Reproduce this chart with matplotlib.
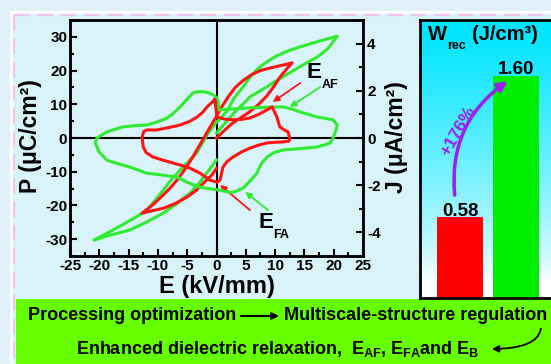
import numpy as np
import matplotlib.pyplot as plt
from matplotlib.patches import Rectangle, FancyArrowPatch
from matplotlib.ticker import MultipleLocator

plt.rcParams['font.family'] = 'Liberation Sans'
plt.rcParams['font.weight'] = 'bold'
plt.rcParams['axes.unicode_minus'] = False
plt.rcParams['mathtext.fontset'] = 'custom'
plt.rcParams['mathtext.rm'] = 'Liberation Sans:bold'
plt.rcParams['mathtext.it'] = 'Liberation Sans:bold'
plt.rcParams['mathtext.bf'] = 'Liberation Sans:bold'

# P-E loops (kV/mm, uC/cm2)
red_pe_E = [0, 1.5, 2.8, 4.3, 5.7, 7.2, 8.6, 9.8, 10.8, 11.9, 12.9, 11.8, 10.5, 9.0, 7.5, 6.0, 4.5, 3.2,
            2.0, 1.0, 0, -1.0, -2.0, -3.0, -4.0, -5.2, -6.5, -8.0, -9.5, -11.0, -12.7, -11.0, -9.0, -7.0,
            -5.0, -3.5, -2.0, -0.8, 0]
red_pe_P = [0, 2.5, 4.5, 6.2, 7.8, 10.0, 12.5, 15.3, 18.0, 20.3, 22.3, 21.8, 21.3, 20.7, 20.0, 18.8, 17.0,
            15.0, 12.2, 9.5, 6.5, 3.5, 0.5, -2.5, -5.5, -8.8, -12.0, -15.0, -17.6, -20.0, -22.3, -21.6,
            -20.8, -19.4, -17.5, -15.6, -13.0, -11.0, -9.0]

green_pe_E = [0, 1.5, 3.0, 4.5, 5.7, 7.5, 9.5, 11.3, 13.3, 15.2, 17.2, 19.0, 20.6, 18.5, 16.3, 14.2, 12.0,
              10.2, 8.6, 7.0, 5.7, 4.5, 3.0, 1.8, 0.8, 0, -1.6, -3.4, -4.8, -6.2, -8.0, -10.0, -11.9,
              -13.8, -15.8, -17.7, -19.3, -20.9, -19.0, -16.8, -14.8, -12.0, -9.1, -6.8, -4.5, -3.0,
              -1.5, 0]
green_pe_P = [1.5, 4.5, 7.5, 10.0, 12.2, 14.0, 16.2, 18.1, 20.2, 22.1, 24.0, 26.5, 30.2, 29.2, 28.1, 27.0,
              25.7, 24.3, 22.6, 20.5, 18.0, 15.1, 11.8, 8.0, 6.0, 4.7, 1.0, -4.5, -7.0, -9.5, -13.0,
              -17.5, -21.4, -23.5, -25.5, -27.3, -28.8, -30.3, -29.2, -28.2, -27.3, -25.0, -22.3,
              -19.5, -16.3, -13.5, -10.0, -6.5]

# J-E curves (kV/mm, uA/cm2)
red_je_E = [-0.3, 0.1, 1.4, 2.8, 4.3, 5.7, 7.2, 8.6, 9.5, 10.3, 10.8, 11.6, 12.2, 12.5, 12.4, 11.3, 10.0,
            8.6, 7.2, 5.7, 4.2, 2.8, 1.8, 1.1, 0.6, 0.1, -1.1, -2.8, -4.5, -6.0, -7.4, -9.1, -10.8,
            -12.0, -12.5, -12.7, -12.4, -11.9, -10.2, -8.2, -6.2, -4.6, -3.3, -2.4, -1.6, -0.3]
red_je_J = [1.62, 0.89, 0.80, 0.77, 0.79, 0.85, 1.00, 1.19, 1.32, 0.89, 0.47, 0.34, 0.26, 0.0, -0.13,
            -0.17, -0.18, -0.21, -0.30, -0.43, -0.60, -0.81, -1.00, -1.23, -1.79, -1.87, -1.79, -1.49,
            -1.28, -1.16, -1.06, -0.94, -0.81, -0.62, -0.38, 0.04, 0.28, 0.34, 0.34, 0.44, 0.55, 0.70,
            0.89, 1.08, 1.32, 1.62]

green_je_E = [0.1, 2.8, 5.7, 8.5, 11.3, 12.8, 14.2, 15.7, 17.2, 18.6, 19.9, 20.6, 20.4, 19.9, 19.4, 18.3,
              17.2, 14.2, 11.3, 9.8, 8.6, 7.6, 6.9, 5.7, 4.5, 3.6, 2.8, 1.7, 0.6, -1.1, -2.8, -4.8,
              -6.7, -9.3, -11.9, -14.8, -16.8, -18.7, -20.0, -20.7, -20.4, -18.7, -16.0, -13.9, -11.9,
              -10.1, -8.4, -7.3, -6.2, -5.1, -4.0, -3.1, -2.3, -1.4, -0.6, 0.1, 0.4, 0.1]
green_je_J = [1.19, 1.23, 1.28, 1.30, 1.32, 1.23, 1.11, 1.00, 0.89, 0.83, 0.77, 0.55, 0.34, 0.0, -0.21,
              -0.30, -0.38, -0.45, -0.51, -0.62, -0.81, -1.10, -1.49, -1.83, -2.13, -2.23, -2.30, -2.28,
              -2.21, -2.15, -2.09, -1.90, -1.66, -1.57, -1.49, -1.23, -1.09, -0.94, -0.60, -0.21, 0.0,
              0.26, 0.47, 0.52, 0.55, 0.68, 0.85, 1.06, 1.32, 1.62, 1.91, 1.96, 1.96, 1.92, 1.83, 1.70,
              1.36, 1.19]

# W_rec bars
samples = ['low', 'opt']
w_rec = [0.58, 1.60]
bar_colors = ['#ff0000', '#00ee00']

RED = '#ff1414'
GREEN = '#30ec30'
PURPLE = '#9b1ff0'

W, H = 551, 364
fig = plt.figure(figsize=(W / 100, H / 100), dpi=100)
fig.patch.set_facecolor('#e2f1f9')


def px_axes(x0, y0, x1, y1):
    return fig.add_axes([x0 / W, 1 - y1 / H, (x1 - x0) / W, (y1 - y0) / H])


def sub_text(axis, x, y, main, sub, size, subsize, **kw):
    # big letter with a small, low subscript next to it
    t = axis.text(x, y, main, fontsize=size, ha='left', va='baseline', **kw)
    axis.annotate(sub, xy=(1, 0), xycoords=t, xytext=(0.3, -3.5), textcoords='offset points',
                  fontsize=subsize, ha='left', va='baseline', **kw)
    return t


# background panel, border and bottom summary box (pixel coordinates)
bg = fig.add_axes([0, 0, 1, 1])
bg.set_xlim(0, W)
bg.set_ylim(H, 0)
bg.axis('off')
bg.set_zorder(-5)
bg.add_patch(Rectangle((10, 11), W, H, fc='white', ec='none'))
bg.add_patch(Rectangle((13, 14), W, H, fc='#d9f3fb', ec='none'))
bg.plot([14, W], [15, 15], color='#f0c4f2', lw=1.6, ls=(0, (7, 3.5)))
bg.plot([14, 14], [15, H], color='#f0c4f2', lw=1.6, ls=(0, (7, 3.5)))
bg.add_patch(Rectangle((16, 299), W, H, fc='#66ff00', ec='none'))

bg.text(30, 136, 'P (μC/cm²)', rotation=90, ha='center', va='center', fontsize=16.5)
bg.text(397, 137, 'J (μA/cm²)', rotation=90, ha='center', va='center', fontsize=16.5)
bg.text(217, 287, 'E (kV/mm)', ha='center', va='center', fontsize=17)

bg.text(28, 316, 'Processing optimization', ha='left', va='center', fontsize=13)
bg.annotate('', xy=(279, 316), xytext=(241, 316),
            arrowprops=dict(arrowstyle='-|>', lw=1.5, color='k', mutation_scale=10,
                            shrinkA=0, shrinkB=0))
bg.text(547, 316, 'Multiscale-structure regulation', ha='right', va='center', fontsize=13)
bg.text(76, 349, r'Enhanced dielectric relaxation,  $E_{AF}$, $E_{FA}$and $E_B$',
        ha='left', va='center', fontsize=13)
bg.add_patch(FancyArrowPatch((541, 326), (489, 349), connectionstyle='angle3,angleA=90,angleB=0',
                             arrowstyle='-|>', mutation_scale=10, lw=1.3, color='k'))

# P-E and J-E panel
ax = px_axes(70, 20, 363, 256)
ax.set_facecolor('none')
ax.set_xlim(-25, 25)
ax.set_ylim(-35, 35)
ax.axhline(0, color='k', lw=1.5, zorder=1)
ax.axvline(0, color='k', lw=1.5, zorder=1)
ax.plot(green_pe_E, green_pe_P, color=GREEN, lw=2.2, solid_joinstyle='round', zorder=3)
ax.plot(red_pe_E, red_pe_P, color=RED, lw=2.2, solid_joinstyle='round', zorder=3)
ax.set_xticks(np.arange(-25, 26, 5))
ax.set_yticks(np.arange(-30, 31, 10))
ax.xaxis.set_minor_locator(MultipleLocator(2.5))
ax.yaxis.set_minor_locator(MultipleLocator(5))
ax.tick_params(which='both', direction='in', width=1.5, labelsize=11, pad=2, right=False, top=False)
ax.tick_params(which='major', length=5)
ax.tick_params(which='minor', length=3)
for s in ax.spines.values():
    s.set_linewidth(1.8)

ax2 = ax.twinx()
ax2.set_ylim(-5, 5)
ax2.plot(green_je_E, green_je_J, color=GREEN, lw=2.2, solid_joinstyle='round')
ax2.plot(red_je_E, red_je_J, color=RED, lw=2.2, solid_joinstyle='round')
ax2.set_yticks([-4, -2, 0, 2, 4])
ax2.yaxis.set_minor_locator(MultipleLocator(1))
ax2.tick_params(which='both', direction='in', width=1.5, labelsize=11, pad=3)
ax2.tick_params(which='major', length=5)
ax2.tick_params(which='minor', length=3)
for s in ax2.spines.values():
    s.set_linewidth(1.8)

# field markers
sub_text(ax, 15.4, 17.8, 'E', 'AF', 16, 9)
sub_text(ax, 7.1, -26.7, 'E', 'FA', 16, 9)
arrows = [((14.3, 16.3), (9.6, 10.7), RED), ((17.7, 15.1), (12.5, 9.2), GREEN),
          ((5.7, -21.4), (0.6, -13.9), RED), ((8.8, -21.4), (4.9, -16.0), GREEN)]
for start, end, c in arrows:
    ax.annotate('', xy=end, xytext=start,
                arrowprops=dict(arrowstyle='-|>', lw=1.3, color=c, mutation_scale=9,
                                shrinkA=0, shrinkB=0))

# W_rec bar panel
bx = px_axes(420, 20, 553, 298)
bx.set_xlim(-0.714, 1.66)
bx.set_ylim(0, 2)
t = np.linspace(0, 1, 256)[:, None]
s = np.clip((t - 0.06) / 0.9, 0, 1) ** 0.75
grad = np.ones((256, 1, 3))
grad[..., 0] = 1 - s
grad[..., 1] = 1 - 0.1 * s
bx.imshow(grad, extent=[-0.714, 1.66, 0, 2], aspect='auto', origin='lower', zorder=0)
bx.bar(range(len(w_rec)), w_rec, width=0.82, color=bar_colors, zorder=2)
for i, v in enumerate(w_rec):
    bx.text(i, v + 0.012, f'{v:.2f}', ha='center', va='baseline', fontsize=13.5, zorder=3)
sub_text(bx, -0.57, 1.855, 'W', 'rec', 14.5, 9)
bx.text(0.22, 1.855, '(J/cm³)', fontsize=14.5, ha='left', va='baseline')
bx.add_patch(FancyArrowPatch((-0.09, 0.72), (0.89, 1.57), connectionstyle='arc3,rad=-0.3',
                             arrowstyle='-|>', mutation_scale=14, lw=2.5, color=PURPLE, zorder=4))
bx.text(-0.03, 1.20, '+176%', rotation=60, color=PURPLE, fontsize=12.5,
        ha='center', va='center')
bx.set_xticks([])
bx.set_yticks([])
for s_ in bx.spines.values():
    s_.set_linewidth(2)

fig.savefig('out.png', dpi=100, facecolor=fig.get_facecolor())
